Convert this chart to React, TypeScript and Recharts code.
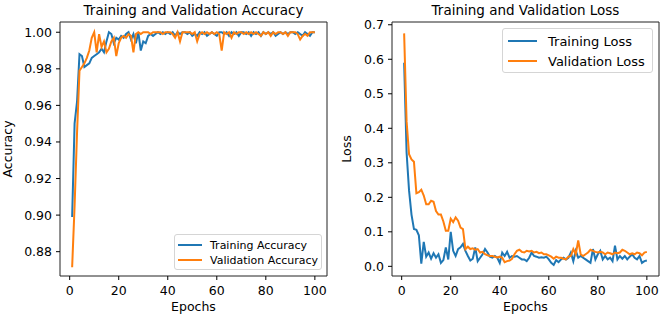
import { LineChart, Line, XAxis, YAxis, Legend, ReferenceArea } from 'recharts';

// epoch numbers 1..100
const epochs = Array.from({ length: 100 }, (_, i) => i + 1);

const trainAcc = [
  0.899, 0.950, 0.962, 0.988, 0.987, 0.981, 0.982, 0.983, 0.986, 0.987,
  0.988, 0.989, 0.991, 0.989, 0.995, 1.000, 0.999, 0.994, 0.997, 0.996,
  0.998, 0.997, 0.999, 1.000, 0.996, 0.999, 0.994, 1.000, 0.990, 0.995,
  0.994, 0.998, 0.999, 0.998, 0.999, 1.000, 0.999, 1.000, 0.999, 1.000,
  0.999, 1.000, 0.998, 1.000, 0.999, 1.000, 1.000, 0.999, 1.000, 0.998,
  0.999, 0.998, 1.000, 0.999, 1.000, 0.998, 0.999, 1.000, 0.999, 0.998,
  1.000, 1.000, 0.999, 1.000, 0.998, 1.000, 0.999, 1.000, 0.998, 1.000,
  1.000, 0.999, 1.000, 0.998, 1.000, 0.999, 1.000, 0.998, 1.000, 0.999,
  1.000, 0.999, 1.000, 0.998, 0.999, 1.000, 0.999, 1.000, 0.999, 1.000,
  1.000, 0.999, 1.000, 0.999, 0.998, 1.000, 0.999, 0.998, 1.000, 1.000,
];

const valAcc = [
  0.8715, 0.905, 0.945, 0.979, 0.981, 0.983, 0.986, 0.990, 0.997, 1.000,
  0.989, 0.999, 0.992, 0.995, 0.989, 0.991, 0.995, 0.997, 0.987, 0.994,
  0.997, 0.998, 0.997, 0.999, 0.998, 0.989, 0.999, 1.000, 0.999, 1.000,
  1.000, 1.000, 0.999, 1.000, 1.000, 1.000, 1.000, 0.999, 1.000, 1.000,
  1.000, 0.999, 0.997, 1.000, 0.995, 1.000, 1.000, 1.000, 1.000, 0.999,
  1.000, 0.995, 0.999, 1.000, 0.999, 1.000, 0.999, 1.000, 0.999, 1.000,
  0.999, 0.990, 1.000, 0.999, 1.000, 0.997, 1.000, 0.999, 1.000, 1.000,
  0.999, 1.000, 0.999, 1.000, 0.999, 1.000, 0.999, 0.998, 1.000, 0.999,
  1.000, 0.998, 1.000, 0.999, 1.000, 1.000, 0.999, 1.000, 0.998, 1.000,
  1.000, 1.000, 0.999, 0.996, 0.998, 0.999, 0.998, 1.000, 1.000, 1.000,
];

const trainLoss = [
  0.590, 0.330, 0.220, 0.150, 0.108, 0.106, 0.090, 0.008, 0.071, 0.028,
  0.040, 0.022, 0.038, 0.025, 0.035, 0.010, 0.018, 0.055, 0.020, 0.100,
  0.045, 0.030, 0.050, 0.055, 0.065, 0.045, 0.030, 0.017, 0.022, 0.055,
  0.015, 0.025, 0.035, 0.050, 0.040, 0.028, 0.025, 0.030, 0.025, 0.010,
  0.040, 0.030, 0.042, 0.025, 0.030, 0.028, 0.030, 0.025, 0.020, 0.020,
  0.015, 0.025, 0.040, 0.030, 0.028, 0.025, 0.026, 0.025, 0.028, 0.020,
  0.010, 0.004, 0.018, 0.012, 0.020, 0.025, 0.020, 0.025, 0.040, 0.015,
  0.045, 0.025, 0.030, 0.025, 0.020, 0.015, 0.010, 0.050, 0.020, 0.035,
  0.045, 0.020, 0.030, 0.020, 0.025, 0.015, 0.060, 0.020, 0.030, 0.022,
  0.030, 0.020, 0.028, 0.035, 0.025, 0.020, 0.030, 0.010, 0.015, 0.017,
];

const valLoss = [
  0.675, 0.420, 0.325, 0.310, 0.303, 0.212, 0.215, 0.222, 0.205, 0.180,
  0.180, 0.190, 0.187, 0.160, 0.150, 0.150, 0.130, 0.103, 0.103, 0.138,
  0.128, 0.142, 0.132, 0.112, 0.108, 0.050, 0.057, 0.050, 0.052, 0.048,
  0.050, 0.040, 0.042, 0.035, 0.032, 0.030, 0.030, 0.028, 0.026, 0.028,
  0.025, 0.012, 0.015, 0.017, 0.022, 0.035, 0.045, 0.048, 0.042, 0.040,
  0.045, 0.043, 0.045, 0.040, 0.042, 0.038, 0.040, 0.035, 0.035, 0.032,
  0.028, 0.022, 0.028, 0.025, 0.025, 0.022, 0.020, 0.028, 0.030, 0.050,
  0.035, 0.075, 0.035, 0.030, 0.035, 0.040, 0.048, 0.045, 0.042, 0.040,
  0.042, 0.040, 0.035, 0.040, 0.038, 0.035, 0.040, 0.038, 0.040, 0.048,
  0.045, 0.040, 0.035, 0.038, 0.035, 0.040, 0.038, 0.032, 0.040, 0.042,
];

const xTicks = [0, 20, 40, 60, 80, 100];
const accTicks = [0.88, 0.90, 0.92, 0.94, 0.96, 0.98, 1.00];
const lossTicks = [0.0, 0.1, 0.2, 0.3, 0.4, 0.5, 0.6, 0.7];

const BLUE = '#1f77b4';
const ORANGE = '#ff7f0e';
const FONT = '"DejaVu Sans", sans-serif';

const X_DOMAIN: [number, number] = [-3.95, 104.95];
const ACC_DOMAIN: [number, number] = [0.8667, 1.0056];
const LOSS_DOMAIN: [number, number] = [-0.028, 0.708];

const accData = epochs.map((e, i) => ({ epoch: e, train: trainAcc[i], val: valAcc[i] }));
const lossData = epochs.map((e, i) => ({ epoch: e, train: trainLoss[i], val: valLoss[i] }));

const tickStyle = { fontSize: 12.5, fill: '#000', fontFamily: FONT };

// matplotlib-like legend box
const makeLegend = (labels: string[], fontSize: number, handle: number, rowH: number, padTop: number, padLeft: number, gap: number) => () => (
  <div
    style={{
      width: '100%',
      height: '100%',
      boxSizing: 'border-box',
      border: '1px solid #d5d5d5',
      borderRadius: 3,
      background: 'rgba(255,255,255,0.85)',
      paddingTop: padTop,
      paddingLeft: padLeft,
      fontFamily: FONT,
      fontSize,
      color: '#000',
    }}
  >
    {labels.map((label, i) => (
      <div key={label} style={{ display: 'flex', alignItems: 'center', height: rowH, whiteSpace: 'nowrap' }}>
        <svg width={handle} height={4} style={{ marginRight: gap }}>
          <line x1={0} y1={2} x2={handle} y2={2} stroke={i === 0 ? BLUE : ORANGE} strokeWidth={2} />
        </svg>
        <span>{label}</span>
      </div>
    ))}
  </div>
);

const AccLegend = makeLegend(['Training Accuracy', 'Validation Accuracy'], 11, 24, 15, 2.5, 3, 8);
const LossLegend = makeLegend(['Training Loss', 'Validation Loss'], 13, 29, 20, 2, 5, 11);

export default function App() {
  return (
    <div style={{ position: 'absolute', left: 0, top: 0, width: 663, height: 319, background: '#fff', fontFamily: FONT }}>
      {/* Accuracy panel */}
      <div style={{ position: 'absolute', left: 0, top: 0 }}>
        <LineChart width={331} height={319} data={accData} margin={{ top: 22, right: 4, bottom: 0, left: 0 }}>
          <XAxis
            dataKey="epoch"
            type="number"
            domain={X_DOMAIN}
            ticks={xTicks}
            height={43}
            axisLine={false}
            tickSize={4}
            tickMargin={6}
            tickLine={{ stroke: '#000' }}
            tick={tickStyle}
          />
          <YAxis
            type="number"
            domain={ACC_DOMAIN}
            ticks={accTicks}
            width={60}
            axisLine={false}
            tickSize={4}
            tickMargin={4}
            tickLine={{ stroke: '#000' }}
            tick={tickStyle}
            tickFormatter={(v: number) => v.toFixed(2)}
          />
          <ReferenceArea x1={X_DOMAIN[0]} x2={X_DOMAIN[1]} y1={ACC_DOMAIN[0]} y2={ACC_DOMAIN[1]} fill="none" stroke="#222" strokeWidth={1} ifOverflow="visible" />
          <Line type="linear" dataKey="train" name="Training Accuracy" stroke={BLUE} strokeWidth={2} dot={false} isAnimationActive={false} />
          <Line type="linear" dataKey="val" name="Validation Accuracy" stroke={ORANGE} strokeWidth={2} dot={false} isAnimationActive={false} />
          <Legend
            layout="vertical"
            align="center"
            verticalAlign="middle"
            content={<AccLegend />}
            wrapperStyle={{ left: 174, top: 234, width: 148, height: 36 }}
          />
        </LineChart>
      </div>

      {/* Loss panel */}
      <div style={{ position: 'absolute', left: 331, top: 0 }}>
        <LineChart width={332} height={319} data={lossData} margin={{ top: 22, right: 4, bottom: 0, left: 0 }}>
          <XAxis
            dataKey="epoch"
            type="number"
            domain={X_DOMAIN}
            ticks={xTicks}
            height={43}
            axisLine={false}
            tickSize={4}
            tickMargin={6}
            tickLine={{ stroke: '#000' }}
            tick={tickStyle}
          />
          <YAxis
            type="number"
            domain={LOSS_DOMAIN}
            ticks={lossTicks}
            width={61}
            axisLine={false}
            tickSize={4}
            tickMargin={4}
            tickLine={{ stroke: '#000' }}
            tick={tickStyle}
            tickFormatter={(v: number) => v.toFixed(1)}
          />
          <ReferenceArea x1={X_DOMAIN[0]} x2={X_DOMAIN[1]} y1={LOSS_DOMAIN[0]} y2={LOSS_DOMAIN[1]} fill="none" stroke="#222" strokeWidth={1} ifOverflow="visible" />
          <Line type="linear" dataKey="train" name="Training Loss" stroke={BLUE} strokeWidth={2} dot={false} isAnimationActive={false} />
          <Line type="linear" dataKey="val" name="Validation Loss" stroke={ORANGE} strokeWidth={2} dot={false} isAnimationActive={false} />
          <Legend
            layout="vertical"
            align="center"
            verticalAlign="middle"
            content={<LossLegend />}
            wrapperStyle={{ left: 171, top: 28, width: 151, height: 45 }}
          />
        </LineChart>
      </div>

      {/* titles and axis labels */}
      <svg width={663} height={319} style={{ position: 'absolute', left: 0, top: 0, pointerEvents: 'none' }} fontFamily={FONT}>
        <text x={193.5} y={15} textAnchor="middle" fontSize={13.5}>Training and Validation Accuracy</text>
        <text x={525.5} y={15} textAnchor="middle" fontSize={13.5}>Training and Validation Loss</text>
        <text x={193.5} y={311} textAnchor="middle" fontSize={12.5}>Epochs</text>
        <text x={525.5} y={311} textAnchor="middle" fontSize={12.5}>Epochs</text>
        <text x={12} y={149} textAnchor="middle" fontSize={12.5} transform="rotate(-90 12 149)">Accuracy</text>
        <text x={351} y={149} textAnchor="middle" fontSize={12.5} transform="rotate(-90 351 149)">Loss</text>
      </svg>
    </div>
  );
}
